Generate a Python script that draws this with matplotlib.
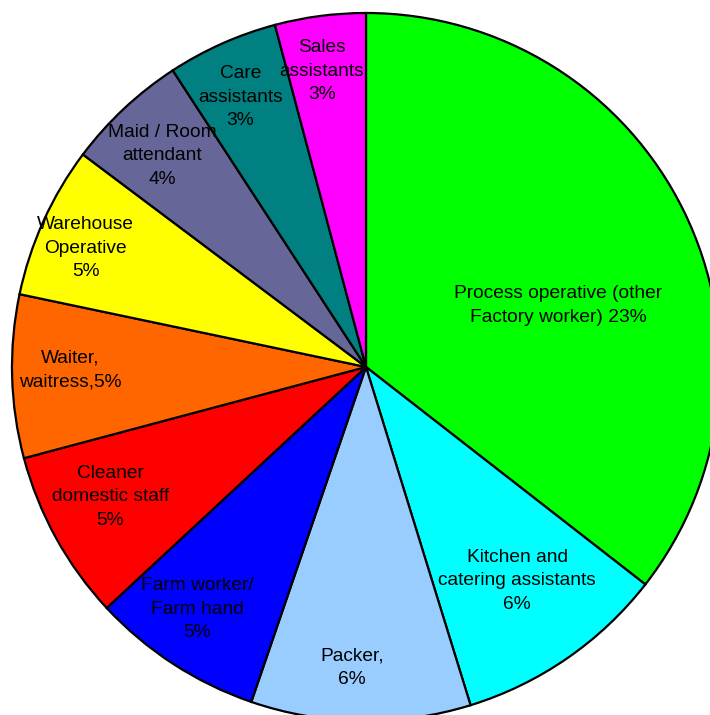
import numpy as np
import matplotlib
matplotlib.use("Agg")
import matplotlib.pyplot as plt

# Data (share of all workers, %); labels show rounded values
categories = ["Process operative (other\nFactory worker) 23%",
              "Kitchen and\ncatering assistants\n6%",
              "Packer,\n6%",
              "Farm worker/\nFarm hand\n5%",
              "Cleaner\ndomestic staff\n5%",
              "Waiter,\nwaitress,5%",
              "Warehouse\nOperative\n5%",
              "Maid / Room\nattendant\n4%",
              "Care\nassistants\n3%",
              "Sales\nassistants\n3%"]
values = [23.0, 6.28, 6.49, 5.07, 5.03, 4.82, 4.50, 3.60, 3.27, 2.68]
colors = ["#00FF00", "#00FFFF", "#99CCFF", "#0000FF", "#FF0000",
          "#FF6600", "#FFFF00", "#666699", "#008080", "#FF00FF"]

# label placement (style): radial distance and angular offset (deg)
label_r = [0.57, 0.74, 0.85, 0.834, 0.81, 0.836, 0.86, 0.83, 0.84, 0.845]
label_dang = [-8.3, 0.6, -1.8, -1.9, -2.0, -0.9, 1.4, 0.9, 1.0, 1.0]

W, H = 710, 715
fig = plt.figure(figsize=(W / 100, H / 100), dpi=100)
cx, cy, R = 366, 367, 354
ax = fig.add_axes([(cx - R) / W, (H - cy - R) / H, 2 * R / W, 2 * R / H])

wedges, _ = ax.pie(values, colors=colors, startangle=90, counterclock=False,
                   radius=1, center=(0, 0), frame=True,
                   wedgeprops=dict(edgecolor="black", linewidth=1.6))
ax.set_xlim(-1, 1)
ax.set_ylim(-1, 1)
ax.axis("off")

for w, lab, r, da in zip(wedges, categories, label_r, label_dang):
    mid = np.deg2rad((w.theta1 + w.theta2) / 2 + da)
    ax.text(r * np.cos(mid), r * np.sin(mid), lab, ha="center", va="center",
            fontsize=13.8, family=["Liberation Sans", "DejaVu Sans"],
            linespacing=1.5, color="black")

fig.savefig("out.png", dpi=100)
